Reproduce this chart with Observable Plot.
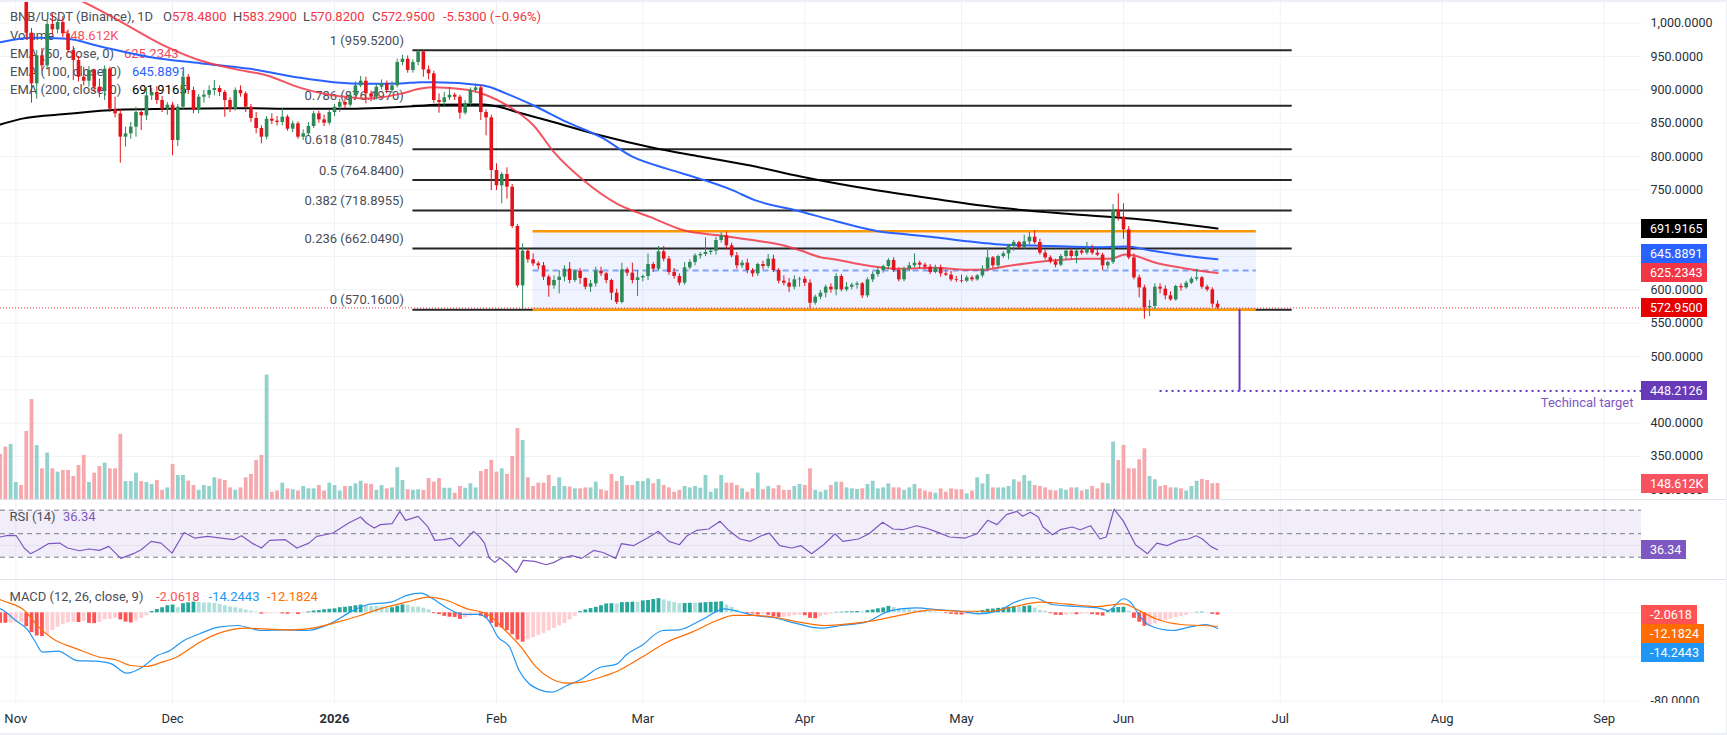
<!DOCTYPE html>
<html>
<head>
<meta charset="utf-8">
<script src="https://cdn.jsdelivr.net/npm/d3@7"></script>
<script src="https://cdn.jsdelivr.net/npm/@observablehq/plot@0.6"></script>
<style>
  body { margin: 0; background: #fff; }
  #chart { position: relative; width: 1727px; height: 735px; overflow: hidden; background: #fff;
           font-family: Roboto, "Liberation Sans", Arial, sans-serif; }
  .pane { position: absolute; left: 0; width: 1727px; overflow: hidden; }
  .pane svg { position: absolute; left: 0; top: 0; }
  .sep { position: absolute; left: 0; width: 1727px; height: 1px; background: #e0e3eb; }
  .strip { position: absolute; background: #eceff5; }
  .txt { position: absolute; white-space: pre; font-size: 13px; line-height: 18px; color: #4a4d57; }
  .tag { position: absolute; left: 1641px; height: 19px; line-height: 19px; padding: 0 5px 0 9px;
         color: #fff; font-size: 12.5px; white-space: pre; }
</style>
</head>
<body>
<div id="chart"></div>
<script>
// ---------- data ----------
const DAY = 864e5;
const origin = Date.UTC(2025, 10, 1);           // day 0 = 1 Nov 2025
const firstCandleDay = -3;                        // first candle: 29 Oct 2025

// daily BNB/USDT candles [open, high, low, close]
const candles = [
  // Oct 29 – Nov 30
  [1108,1125,1090,1100],[1100,1112,1078,1086],[1086,1098,1072,1090],[1090,1102,1082,1095],[1095,1100,1070,1078],
  [1078,1082,975,985],[985,992,880,909],[909,959,886,951],[951,962,928,936],[936,1004,930,998],
  [998,1014,982,990],[990,1006,984,1001],[1001,1010,978,984],[984,990,955,959],[959,965,914,944],
  [944,950,912,919],[919,934,906,913],[913,935,904,929],[929,931,896,904],[904,916,888,897],
  [897,936,884,931],[931,934,866,871],[871,889,858,864],[864,870,790,829],[829,844,814,834],
  [834,851,826,844],[844,874,829,866],[866,871,839,861],[861,904,854,891],[891,902,884,896],
  [896,905,878,884],[884,890,866,871],[871,881,862,877],
  // December
  [877,881,801,824],[824,878,815,874],[874,928,870,919],[919,923,893,899],[899,904,864,869],
  [869,893,864,889],[889,899,880,892],[892,906,887,899],[899,914,891,902],[902,906,890,896],
  [896,899,859,884],[884,888,866,871],[871,903,868,899],[899,906,889,894],[894,897,866,874],
  [874,878,851,857],[857,866,834,842],[842,846,819,829],[829,860,825,856],[856,864,848,853],
  [853,860,846,851],[851,872,846,859],[859,862,838,841],[841,853,836,849],[849,852,826,829],
  [829,840,824,834],[834,851,831,845],[845,868,842,864],[864,868,850,855],[855,862,845,850],
  [850,870,847,866],[866,878,860,874],
  // January
  [874,886,866,881],[881,888,872,877],[877,896,874,891],[891,912,884,906],[906,920,903,913],
  [913,919,879,894],[894,898,882,889],[889,908,885,904],[904,915,900,909],[909,913,894,899],
  [899,912,895,906],[906,946,903,941],[941,952,936,946],[946,951,925,929],[929,945,925,941],
  [941,959.52,936,957],[957,960,919,930],[930,936,915,924],[924,928,880,884],[884,894,865,881],
  [881,896,876,888],[888,904,884,892],[892,895,884,889],[889,892,856,865],[865,884,862,879],
  [879,903,876,899],[899,909,895,903],[903,907,854,866],[866,870,831,858],[858,862,749,779],
  // February
  [779,789,749,756],[756,776,729,773],[773,783,736,754],[754,758,692,695],[695,698,603,606],
  [606,669,570.16,658],[658,662,640,645],[645,654,635,639],[639,642,630,636],[636,641,614,619],
  [619,622,589,606],[606,621,601,614],[614,629,594,619],[619,636,612,631],[631,641,609,614],
  [614,630,611,628],[628,632,608,617],[617,618,600,604],[604,614,596,609],[609,634,604,628],
  [628,634,620,624],[624,626,609,614],[614,616,584,595],[595,601,578,581],[581,640,579,630],
  [630,633,620,625],[625,640,609,614],[614,629,590,618],
  // March
  [618,622,612,620],[620,654,614,638],[638,641,626,631],[631,665,628,657],[657,665,642,646],
  [646,650,622,626],[626,632,616,620],[620,624,606,610],[610,641,607,633],[633,645,630,641],
  [641,654,636,651],[651,656,646,653],[653,678,650,656],[656,660,652,658],[658,679,652,674],
  [674,686,670,681],[681,687,660,666],[666,670,648,651],[651,656,631,636],[636,644,632,640],
  [640,646,624,629],[629,632,619,624],[624,640,620,638],[638,643,630,635],[635,653,632,646],
  [646,652,626,629],[629,632,609,613],[613,621,606,610],[610,617,596,604],[604,621,600,615],
  [615,619,604,616],
  // April
  [616,620,605,610],[610,615,571,580],[580,592,577,589],[589,599,585,595],[595,607,588,604],
  [604,609,595,600],[600,624,591,620],[620,623,597,600],[600,611,597,604],[604,610,600,607],
  [607,612,601,609],[609,611,587,591],[591,618,588,615],[615,627,611,623],[623,634,619,629],
  [629,637,625,635],[635,647,631,644],[644,648,626,629],[629,633,612,615],[615,634,612,631],
  [631,641,627,636],[636,654,633,640],[640,643,632,637],[637,640,630,634],[634,638,623,626],
  [626,637,624,633],[633,637,619,624],[624,629,620,622],[622,628,612,615],[615,620,611,614],
  // May
  [614,622,610,613],[613,621,611,618],[618,621,612,615],[615,623,613,621],[621,636,618,631],
  [631,663,628,648],[648,650,632,636],[636,652,633,650],[650,657,647,654],[654,668,645,665],
  [665,674,658,671],[671,673,660,663],[663,682,661,672],[672,686,667,679],[679,689,668,671],
  [671,676,652,655],[655,659,645,648],[648,651,639,642],[642,646,633,637],[637,653,635,650],
  [650,661,645,658],[658,663,646,650],[650,661,639,658],[658,663,652,655],[655,671,652,661],
  [661,667,652,655],[655,661,650,652],[652,655,629,636],[636,643,631,641],[641,728,638,720],
  [720,744,703,709],
  // June
  [709,729,676,690],[690,695,645,648],[648,654,615,618],[618,622,588,603],[603,607,556,573],
  [573,584,560,575],[575,609,570,604],[604,609,594,601],[601,606,585,591],[591,597,583,585],
  [585,607,583,605],[605,609,598,603],[603,613,601,610],[610,619,608,616],[616,631,613,618],
  [618,620,601,604],[604,607,597,600],[600,603,573,578.48],[578.48,583.29,570.82,572.95]
];

// daily volume, thousands of BNB
const volumeK = [
  420,487,512,158,130,632,929,502,285,431,
  285,254,270,270,214,316,409,158,245,307,
  338,285,285,605,167,167,245,167,158,140,
  177,84,108,326,223,223,171,130,84,130,
  121,202,189,177,108,84,108,202,233,363,
  409,1157,68,78,152,99,90,78,121,99,
  99,130,78,152,130,78,121,121,146,170,
  146,140,84,130,99,108,295,177,90,84,
  90,84,195,161,195,105,105,59,121,105,
  146,108,260,279,363,254,285,233,400,660,
  549,202,121,152,152,223,121,202,121,115,
  99,99,108,108,161,90,78,233,167,214,
  130,130,167,167,192,146,186,130,108,68,
  84,121,108,121,105,223,68,99,223,152,
  152,130,99,68,99,245,90,121,99,130,
  84,84,121,140,130,285,84,68,84,130,
  161,161,108,99,93,99,140,170,99,108,
  146,108,108,84,108,140,99,78,68,59,
  99,68,99,90,90,53,78,202,146,233,
  108,108,108,121,183,161,223,170,130,121,
  108,84,78,99,84,108,108,78,90,121,
  99,152,146,533,363,502,285,285,369,471,
  214,183,121,130,108,108,99,78,121,170,
  186,177,146,148.612
];

// MACD histogram, one value per candle
const macdHist = [
  -9.5,-9.5,-9.3,-9.0,-8.6,-12.5,-18.0,-21.0,-21.5,-19.5,
  -16.0,-13.0,-10.5,-9.0,-8.6,-8.8,-7.8,-9.6,-9.8,-8.8,
  -6.2,-5.8,-5.0,-6.4,-8.4,-9.2,-7.4,-5.2,-2.6,1.2,
  3.0,4.6,6.4,7.0,4.6,8.2,9.0,9.6,9.2,9.0,
  8.8,8.5,7.6,6.4,5.2,4.6,3.6,2.4,1.4,0.6,
  -1.2,-1.0,-0.6,-0.4,-1.0,-1.4,-0.8,-1.6,-0.6,0.8,
  1.6,2.0,2.8,3.2,3.6,4.6,5.0,5.6,6.4,7.0,
  6.6,5.8,5.8,5.2,4.4,4.6,6.0,7.2,6.8,5.2,
  5.2,4.2,2.8,-0.8,-1.6,-3.2,-4.0,-4.2,-6.0,-4.6,
  -3.0,-1.2,-3.2,-5.0,-9.6,-13.2,-13.8,-16.0,-19.8,-24.6,
  -26.6,-24.5,-22.5,-20.5,-18.6,-16.4,-14.2,-12.0,-9.6,-6.4,
  -3.2,1.0,2.6,3.8,5.0,6.4,8.0,8.2,8.0,9.2,
  9.4,9.6,9.6,10.8,11.2,12.0,12.8,11.6,10.4,9.2,
  8.2,8.4,8.6,8.6,8.8,9.2,9.4,9.6,10.0,7.0,
  5.0,2.4,0.4,-1.0,-1.0,-2.0,-1.6,-2.2,-3.8,-4.2,
  -4.0,-3.6,-2.6,-2.2,-2.6,-5.0,-5.4,-3.6,-2.4,-1.2,
  0.4,0.6,0.8,0.9,1.2,1.0,2.0,2.6,3.6,4.4,
  5.8,4.8,3.8,3.4,3.0,2.4,2.0,1.8,1.2,0.8,
  0.4,-0.6,-1.4,-1.8,-2.0,-1.6,0.4,1.2,2.0,3.2,
  3.4,4.0,4.4,5.0,5.6,5.4,5.8,6.2,4.2,2.2,
  1.4,-0.8,-2.2,-2.4,-2.0,-1.6,-1.8,-1.2,-0.8,-1.6,
  -2.2,-3.0,1.0,4.0,4.8,5.0,1.6,-5.0,-8.6,-12.2,
  -12.0,-10.0,-8.0,-6.8,-5.6,-4.2,-3.4,-2.4,-0.6,0.4,
  0.6,0.3,-1.4,-2.0618
];

// moving averages, [day, value]
const ema50 = [[-3,1082],[5,1058],[12.4,1034],[16.2,1019],[22.5,991.5],[29,964],[35.3,944],[41.7,931.5],
  [48.1,921.5],[54.5,903],[60.9,891.5],[64,889],[67.3,887],[73.6,894],[77.5,902],[80,904],[86.4,900],
  [90.2,891.5],[94.1,876.5],[99.1,846.5],[103,806.5],[108.7,764],[115.1,729],[121.5,709],[128,689],
  [134.9,681.5],[140.6,675],[147,666.5],[150.2,659],[154,649],[156.6,646],[163,636.5],[169.3,631.5],
  [175.7,633],[182.1,630],[185.3,630],[188.5,634],[194.8,641],[204.4,646.5],[209.5,646.5],[212.4,653],
  [214,651.5],[217.8,641.5],[223.5,632.5],[230,625.2343]];
const ema100 = [[-3,971.5],[3.4,978],[9.8,976.5],[16.2,965],[25.8,949],[35.3,940],[44.9,931.5],[54.5,918],
  [60.8,911.5],[67.3,909],[73.6,909.5],[77.5,911.5],[80,911.5],[89.5,906.5],[94,894],[99.1,876.5],
  [105.5,851.5],[112,829],[118.2,799],[124.7,781.5],[131,766.5],[137,750],[141.3,735],[150,718],
  [157,703],[165,688],[169.3,684],[175.7,679],[182.1,673],[188.5,668],[194.8,666.5],[207.6,664],
  [212.4,665],[217.2,659],[223.5,651.5],[230,645.8891]];
const ema200 = [[-3,848],[1,856.5],[10,864],[19.4,870],[29,871.5],[41.7,872.5],[54.5,871.5],[64,871.5],
  [70.4,873],[77.5,876],[80,877.5],[89.5,878],[92.8,874],[96,866.5],[102.3,853],[112,831.5],[121.5,814],
  [131,800],[140.6,786.5],[150.2,770],[163,751.5],[175.7,736.5],[188.5,723],[201.2,714],[214,706.5],
  [230,691.9165]];

// RSI (14), [day, value]
const rsi = [[-3,47.2],[-1.5,48.6],[0.1,48.3],[1.6,37.8],[2.8,33],[4.3,36.4],[6.2,41.5],[8.4,42],[9.9,37.8],
  [12.2,35.5],[14,37],[16,35.8],[17.8,39.2],[20.1,29],[22.5,33],[24,36.4],[25.9,43.5],[27.8,42],[29.9,33.5],
  [32.2,51],[34.2,46.3],[36.7,47.7],[39.3,46.3],[41.7,44.9],[43.2,48.3],[45.2,42],[47,37.8],[48.6,44.3],
  [51.6,44.9],[53.8,37.8],[56.1,42],[57.6,47.7],[59.2,49.1],[60.7,50.6],[62.2,54.8],[63.7,59.1],[66,64.2],
  [67.1,59.1],[68.6,54.8],[69.8,57.7],[72,58.5],[73.5,69],[74.6,61.4],[77,64.8],[78.8,56.3],[80.2,44.3],
  [81.9,44.9],[83.4,46.3],[84.9,39.2],[87.6,52],[88.7,47.7],[89.7,42],[90.6,29.3],[91.7,25.6],[92.7,29.3],
  [94.3,23.6],[95.8,17],[97.1,27.3],[99.3,26.4],[101.5,23.6],[103,25.6],[104.6,29.3],[106.4,31.3],[108.3,29],
  [110.6,35.8],[112.4,34],[114.8,29],[115.9,41.5],[118.2,39.8],[120.9,46.3],[123,52],[125,43.5],[127,40.6],
  [128.5,48.3],[130.3,52.8],[132.6,54],[134.8,60.5],[136.3,53.4],[138.6,45.5],[140.6,43.5],[142.7,48.3],
  [144.2,50.6],[146.2,39.8],[148.5,37.8],[150.3,39.8],[152.3,33],[154.6,40.6],[156.8,50],[158.3,43.5],
  [161.3,45.5],[163.3,50],[165.9,59.7],[167.9,54],[169.7,53.4],[172.4,56.8],[174.2,54.8],[176.5,51.1],
  [178.7,47.2],[181.7,46.3],[184,50],[186,61.4],[187.8,57.7],[189.6,66.2],[191.6,69],[192.7,64.8],
  [194.2,68.2],[195.7,64.2],[196.6,55.7],[198.4,49.1],[199.9,53.4],[202.2,55.7],[203.7,53.4],[205.7,56.8],
  [207.5,45.5],[208.7,47.2],[210.2,71],[212,60.5],[214.3,40.6],[216.6,33],[218.4,42],[220.3,39.8],
  [222.6,44.3],[224.4,45.5],[225.9,48.3],[227.1,45.5],[228.7,39.2],[230,36.34]];

// MACD (12, 26, 9) line and signal, [day, value]
const macdLine = [[-3,3.5],[-2.6,2.7],[0,-7],[2.2,-15],[3.7,-26],[5.1,-35.6],[8.1,-34.7],[11.7,-43.2],
  [15.4,-43.8],[18.3,-46.2],[21.2,-54.6],[24.2,-49.2],[27.1,-38.6],[29.3,-34.7],[32.2,-25],[35.2,-19],
  [38.8,-13],[42.5,-11.5],[46.9,-16],[51.3,-15.4],[55.7,-16],[60.1,-10],[64.5,2],[67.4,7.5],[71.8,9.6],
  [74.7,15.6],[77.6,17.8],[79.8,12.7],[82.8,3.6],[85.7,-1.5],[88.6,-1.5],[90.5,-7],[92.3,-22],[94.5,-31],
  [96.3,-52],[98.2,-64],[100.3,-69.7],[102.5,-71.8],[105.5,-65.8],[108.4,-59.7],[111.5,-50],[115.1,-46.2],
  [116.7,-38.6],[119.8,-29.6],[123.8,-16],[127,-15.4],[131,-7],[135.7,3.6],[138.1,1.4],[141.3,-2.4],
  [145.2,-4.5],[149.2,-9.4],[154,-13.9],[157.9,-11.5],[162.7,-8.5],[167.4,2],[172.2,4.5],[177,2.7],
  [180.9,1.4],[184.1,-0.9],[188.1,2],[191.2,9.6],[194.8,13.6],[198.4,7.5],[203.1,5.7],[207.1,4.5],
  [209.1,2],[212,12.7],[213.5,8.7],[215,-2.4],[217,-11.5],[221.4,-16],[224.6,-13],[227.7,-10.6],
  [230,-14.2443]];
const macdSignal = [[-3,12],[-2.6,11.1],[1.7,2],[4.4,-13],[7.1,-23.5],[11.7,-32.6],[16.1,-40.2],[19.1,-42.5],
  [22.1,-47.7],[25,-48.6],[28,-44.7],[31,-39.5],[35.2,-26.6],[39.5,-17.5],[43.9,-13.9],[48.3,-14.8],
  [52.7,-15.4],[57.1,-13.6],[61.5,-8.5],[65.9,-2.4],[70.3,4.5],[74.7,9.6],[79.1,14.1],[82.1,11.8],
  [86.4,3.6],[90.1,-0.9],[93.7,-16],[96.7,-31],[99.6,-49.2],[102.5,-59.7],[105.5,-63.7],[108.4,-62.8],
  [111.9,-58.3],[115.1,-52.9],[119.8,-40.2],[124.6,-26.6],[129.4,-17.5],[134.2,-7],[137.4,-2.4],
  [141.3,-2.4],[145.2,-4],[150,-8.5],[154.8,-11.5],[159.5,-10],[164.3,-7],[169.1,-2.4],[175.4,2.7],
  [180.9,1.4],[186.5,1.4],[191.2,5.7],[196,9.6],[200.8,8.1],[207.1,5.7],[211.9,8.1],[215,2],[218.2,-5.4],
  [223,-10.6],[227,-11.5],[230,-12.1824]];

// Fibonacci retracement drawn from the January high to the February low
const fibRatios = ["1", "0.786", "0.618", "0.5", "0.382", "0.236", "0"];
const fibPrices = [959.52, 876.197, 810.7845, 764.84, 718.8955, 662.049, 570.16];
const fibFrom = "2026-01-16", fibTo = "2026-07-03T07:00Z";

// consolidation range and measured-move target
const rangeFrom = "2026-02-08", rangeTo = "2026-06-26T10:00Z";
const rangeTop = 688, rangeBottom = 570.16;
const targetPrice = 448.2126;
const targetDate = "2026-06-23T05:00Z", targetLineFrom = "2026-06-08";

// axis ticks
const monthTicks = ["2025-11-01","2025-12-01","2026-01-01","2026-02-01","2026-03-01","2026-04-01",
  "2026-05-01","2026-06-01","2026-07-01","2026-08-01","2026-09-01"];
const monthLabels = ["Nov","Dec","2026","Feb","Mar","Apr","May","Jun","Jul","Aug","Sep"];
const priceGrid = [1000,950,900,850,800,750,700,650,600,550,500,450,400,350,300];
const priceLabels = [1000,950,900,850,800,750,600,550,500,400,350,300];

// ---------- build ----------
const dayToDate = d => new Date(origin + d * DAY);
const bars = candles.map(([o, h, l, c], i) => ({
  date: dayToDate(firstCandleDay + i), o, h, l, c, up: c >= o, vol: volumeK[i], hist: macdHist[i]
}));
const pt = arr => arr.map(([d, v]) => ({date: dayToDate(d), v}));
const monthDates = monthTicks.map(s => new Date(s));

const FONT = 'Roboto, "Liberation Sans", Arial, sans-serif';
const GRID = "#f0f2f6";
const AXIS = "#2a2e39";
const UP = "#2d8a57", DOWN = "#e3141b";
const W = 1727, MR = 86, PLOT_R = W - MR;
const xDomain = [dayToDate(-2.93), dayToDate(311.14)];
const xOpt = {type: "utc", domain: xDomain, range: [0, PLOT_R], axis: null};
const baseStyle = {background: "transparent", fontFamily: FONT, overflow: "hidden"};
const fmtAxis = d3.format(",.4f");
const fmt4 = v => v.toFixed(4);
const candleColor = d => d.up ? UP : DOWN;

const chart = document.getElementById("chart");
function pane(top, height) {
  const el = document.createElement("div");
  el.className = "pane";
  el.style.top = top + "px";
  el.style.height = height + "px";
  chart.appendChild(el);
  return el;
}
function yPix(plot, v) {
  const s = plot.scale("y");
  return s.apply ? s.apply(v) : d3.scaleLinear(s.domain, s.range)(v);
}
function addTag(el, plot, value, text, bg, nudge = 0) {
  const t = document.createElement("div");
  t.className = "tag";
  t.style.top = (yPix(plot, value) - 9.5 + nudge) + "px";
  t.style.background = bg;
  t.textContent = text;
  el.appendChild(t);
}
function addText(el, x, yc, parts) {
  const t = document.createElement("div");
  t.className = "txt";
  t.style.left = x + "px";
  t.style.top = (yc - 9) + "px";
  for (const [s, color] of parts) {
    const sp = document.createElement("span");
    sp.textContent = s;
    if (color) sp.style.color = color;
    t.appendChild(sp);
  }
  el.appendChild(t);
}

// ----- price pane -----
const pricePane = pane(0, 499);
const priceY = {domain: [500, 1000], range: [356, 22.7], axis: null};
const common = {width: W, height: 499, marginLeft: 0, marginTop: 0, marginBottom: 0, marginRight: MR, x: xOpt};

const gridPlot = Plot.plot({
  ...common, y: priceY, style: baseStyle,
  marks: [
    Plot.gridX(monthDates, {stroke: GRID, strokeOpacity: 1}),
    Plot.gridY(priceGrid, {stroke: GRID, strokeOpacity: 1}),
    Plot.text(priceLabels, {y: d => d, text: d => fmtAxis(d), frameAnchor: "right", textAnchor: "start",
      dx: 9, fill: AXIS, fontSize: 12.5})
  ]
});
pricePane.appendChild(gridPlot);

const volPlot = Plot.plot({
  ...common, y: {domain: [0, 1000], range: [499, 391.4], axis: null}, color: {type: "identity"}, style: baseStyle,
  marks: [
    Plot.ruleX(bars, {x: "date", y1: 0, y2: "vol", stroke: d => d.up ? "#92d2cc" : "#f7a8ac",
      strokeWidth: 3.8, clip: true})
  ]
});
pricePane.appendChild(volPlot);

// legend sits beneath the price marks
const last = bars[bars.length - 1], prev = bars[bars.length - 2];
const chg = last.c - prev.c, pct = chg / prev.c * 100;
const RED = "#f23645";
addText(pricePane, 10, 17.3, [["BNB/USDT (Binance), 1D"]]);
addText(pricePane, 163, 17.3, [["O"], [fmt4(last.o), RED]]);
addText(pricePane, 233, 17.3, [["H"], [fmt4(last.h), RED]]);
addText(pricePane, 303, 17.3, [["L"], [fmt4(last.l), RED]]);
addText(pricePane, 372, 17.3, [["C"], [fmt4(last.c), RED]]);
addText(pricePane, 443, 17.3, [[`${chg.toFixed(4)} (\u2212${Math.abs(pct).toFixed(2)}%)`, RED]]);
addText(pricePane, 10, 36, [["Volume"]]);
addText(pricePane, 63, 36, [[`${last.vol.toFixed(3)}K`, "#f7525f"]]);
addText(pricePane, 10, 54, [["EMA (50, close, 0)"]]);
addText(pricePane, 124, 54, [[fmt4(ema50.at(-1)[1]), "#f24a5a"]]);
addText(pricePane, 10, 72, [["EMA (100, close, 0)"]]);
addText(pricePane, 132, 72, [[fmt4(ema100.at(-1)[1]), "#2962ff"]]);
addText(pricePane, 10, 90, [["EMA (200, close, 0)"]]);
addText(pricePane, 132, 90, [[fmt4(ema200.at(-1)[1]), "#000"]]);

const fib = fibRatios.map((r, i) => ({ratio: r, price: fibPrices[i]}));
const fibStart = new Date(fibFrom), fibEnd = new Date(fibTo);
const rStart = new Date(rangeFrom), rEnd = new Date(rangeTo);
const pricePlot = Plot.plot({
  ...common, y: priceY, color: {type: "identity"}, style: baseStyle,
  marks: [
    Plot.rect([0], {x1: () => rStart, x2: () => rEnd, y1: () => rangeBottom, y2: () => rangeTop,
      fill: "#2962ff", fillOpacity: 0.08}),
    Plot.ruleY(fib, {y: "price", x1: () => fibStart, x2: () => fibEnd, stroke: "#262626", strokeWidth: 2}),
    Plot.text(fib, {x: () => fibStart, y: "price", text: d => `${d.ratio} (${fmt4(d.price)})`,
      textAnchor: "end", dx: -9, dy: -9.5, fill: "#4a4d57", fontSize: 13}),
    Plot.ruleY([rangeTop, rangeBottom], {x1: () => rStart, x2: () => rEnd, stroke: "#ff9800", strokeWidth: 2.5}),
    Plot.ruleY([(rangeTop + rangeBottom) / 2], {x1: () => rStart, x2: () => rEnd, stroke: "#7fa2f7",
      strokeWidth: 2, strokeDasharray: "6,4"}),
    Plot.line(pt(ema200), {x: "date", y: "v", stroke: "#000", strokeWidth: 2, curve: "monotone-x", clip: true}),
    Plot.line(pt(ema100), {x: "date", y: "v", stroke: "#2962ff", strokeWidth: 2, curve: "monotone-x", clip: true}),
    Plot.line(pt(ema50), {x: "date", y: "v", stroke: "#f23645", strokeOpacity: 0.85, strokeWidth: 2,
      curve: "monotone-x", clip: true}),
    Plot.ruleX(bars, {x: "date", y1: "l", y2: "h", stroke: candleColor, strokeWidth: 1, clip: true}),
    Plot.ruleX(bars, {x: "date", y1: "o", y2: "c", stroke: candleColor, strokeWidth: 3.6, clip: true}),
    Plot.ruleY([last.c], {stroke: "#f23645", strokeWidth: 1, strokeDasharray: "1,2"}),
    Plot.ruleX([0], {x: () => new Date(targetDate), y1: () => rangeBottom, y2: () => targetPrice,
      stroke: "#673ab7", strokeWidth: 2}),
    Plot.ruleY([targetPrice], {x1: () => new Date(targetLineFrom), x2: () => xDomain[1],
      stroke: "#673ab7", strokeWidth: 2, strokeDasharray: "2,4"}),
    Plot.text([targetPrice], {x: () => xDomain[1], y: d => d, text: () => "Techincal target",
      textAnchor: "end", dx: -8, dy: 11.5, fill: "#7e57c2", fontSize: 13})
  ]
});
pricePane.appendChild(pricePlot);

addTag(pricePane, pricePlot, ema200.at(-1)[1], fmt4(ema200.at(-1)[1]), "#000000");
addTag(pricePane, pricePlot, ema100.at(-1)[1], fmt4(ema100.at(-1)[1]), "#2962ff", -4.8);
addTag(pricePane, pricePlot, ema50.at(-1)[1], fmt4(ema50.at(-1)[1]), "#f23645");
addTag(pricePane, pricePlot, last.c, fmt4(last.c), "#e60000");
addTag(pricePane, pricePlot, targetPrice, fmt4(targetPrice), "#673ab7");
addTag(pricePane, volPlot, last.vol, `${last.vol.toFixed(3)}K`, "#f7525f");

// ----- RSI pane -----
const rsiPane = pane(499, 80);
const rsiPlot = Plot.plot({
  width: W, height: 80, marginLeft: 0, marginTop: 0, marginBottom: 0, marginRight: MR, x: xOpt,
  y: {domain: [30, 70], range: [57.7, 10.7], axis: null}, style: baseStyle,
  marks: [
    Plot.gridX(monthDates, {stroke: GRID, strokeOpacity: 1}),
    Plot.rect([0], {x1: () => xDomain[0], x2: () => xDomain[1], y1: () => 30, y2: () => 70,
      fill: "#7e57c2", fillOpacity: 0.1}),
    Plot.gridY([40], {stroke: "#e4e1ee", strokeOpacity: 1}),
    Plot.ruleY([70, 50, 30], {stroke: "#787b86", strokeWidth: 1, strokeDasharray: "5,4"}),
    Plot.line(pt(rsi), {x: "date", y: "v", stroke: "#7e57c2", strokeWidth: 1.2, clip: true})
  ]
});
rsiPane.appendChild(rsiPlot);
addText(rsiPane, 9.5, 18.3, [["RSI (14)"]]);
addText(rsiPane, 63, 18.3, [[rsi.at(-1)[1].toFixed(2), "#7e57c2"]]);
addTag(rsiPane, rsiPlot, rsi.at(-1)[1], rsi.at(-1)[1].toFixed(2), "#7e57c2");

// ----- MACD pane -----
const macdPane = pane(579, 124);
const histColor = (d, i) => {
  const p = i > 0 ? bars[i - 1].hist : d.hist;
  return d.hist >= 0 ? (d.hist > p ? "#26a69a" : "#b2dfdb") : (d.hist > p ? "#ffcdd2" : "#ff5252");
};
const macdPlot = Plot.plot({
  width: W, height: 124, marginLeft: 0, marginTop: 0, marginBottom: 0, marginRight: MR, x: xOpt,
  y: {domain: [-80, 0], range: [121.7, 33.3], axis: null}, color: {type: "identity"}, style: baseStyle,
  marks: [
    Plot.gridX(monthDates, {stroke: GRID, strokeOpacity: 1}),
    Plot.gridY([0, -40, -80], {stroke: GRID, strokeOpacity: 1}),
    Plot.ruleX(bars, {x: "date", y1: 0, y2: "hist", stroke: histColor, strokeWidth: 3.8, clip: true}),
    Plot.line(pt(macdLine), {x: "date", y: "v", stroke: "#2196f3", strokeWidth: 1.2, curve: "monotone-x", clip: true}),
    Plot.line(pt(macdSignal), {x: "date", y: "v", stroke: "#ff6d00", strokeWidth: 1.2, curve: "monotone-x", clip: true}),
    Plot.text([-80], {y: d => d, text: d => d.toFixed(4), frameAnchor: "right", textAnchor: "start",
      dx: 9, fill: AXIS, fontSize: 12.5})
  ]
});
macdPane.appendChild(macdPlot);
const histLast = macdHist.at(-1), macdLast = macdLine.at(-1)[1], sigLast = macdSignal.at(-1)[1];
addText(macdPane, 9.5, 17.7, [["MACD (12, 26, close, 9)"]]);
addText(macdPane, 156, 17.7, [[histLast.toFixed(4), "#ff5252"]]);
addText(macdPane, 208.6, 17.7, [[macdLast.toFixed(4), "#2196f3"]]);
addText(macdPane, 267, 17.7, [[sigLast.toFixed(4), "#ff6d00"]]);
addTag(macdPane, macdPlot, histLast, histLast.toFixed(4), "#ff5252");
addTag(macdPane, macdPlot, sigLast, sigLast.toFixed(4), "#ff6d00", 8.2);
addTag(macdPane, macdPlot, macdLast, macdLast.toFixed(4), "#2196f3", 24.7);

// ----- time axis -----
const axisPane = pane(703, 30);
const axisPlot = Plot.plot({
  width: W, height: 30, marginLeft: 0, marginTop: 0, marginBottom: 0, marginRight: MR, x: xOpt,
  style: {...baseStyle, overflow: "visible"},
  marks: [
    Plot.text(monthDates, {x: d => d, text: (d, i) => monthLabels[i], filter: (d, i) => monthLabels[i] !== "2026",
      frameAnchor: "middle", fill: AXIS, fontSize: 13}),
    Plot.text(monthDates, {x: d => d, text: (d, i) => monthLabels[i], filter: (d, i) => monthLabels[i] === "2026",
      frameAnchor: "middle", fill: AXIS, fontSize: 13, fontWeight: "bold"})
  ]
});
axisPane.appendChild(axisPlot);

// pane separators and frame
for (const y of [499, 579]) {
  const s = document.createElement("div"); s.className = "sep"; s.style.top = y + "px"; chart.appendChild(s);
}
for (const [l, t, w, h] of [[0, 0, 1727, 2], [0, 733, 1727, 2], [1726, 0, 1, 735]]) {
  const s = document.createElement("div"); s.className = "strip";
  Object.assign(s.style, {left: l + "px", top: t + "px", width: w + "px", height: h + "px"});
  chart.appendChild(s);
}
</script>
</body>
</html>
